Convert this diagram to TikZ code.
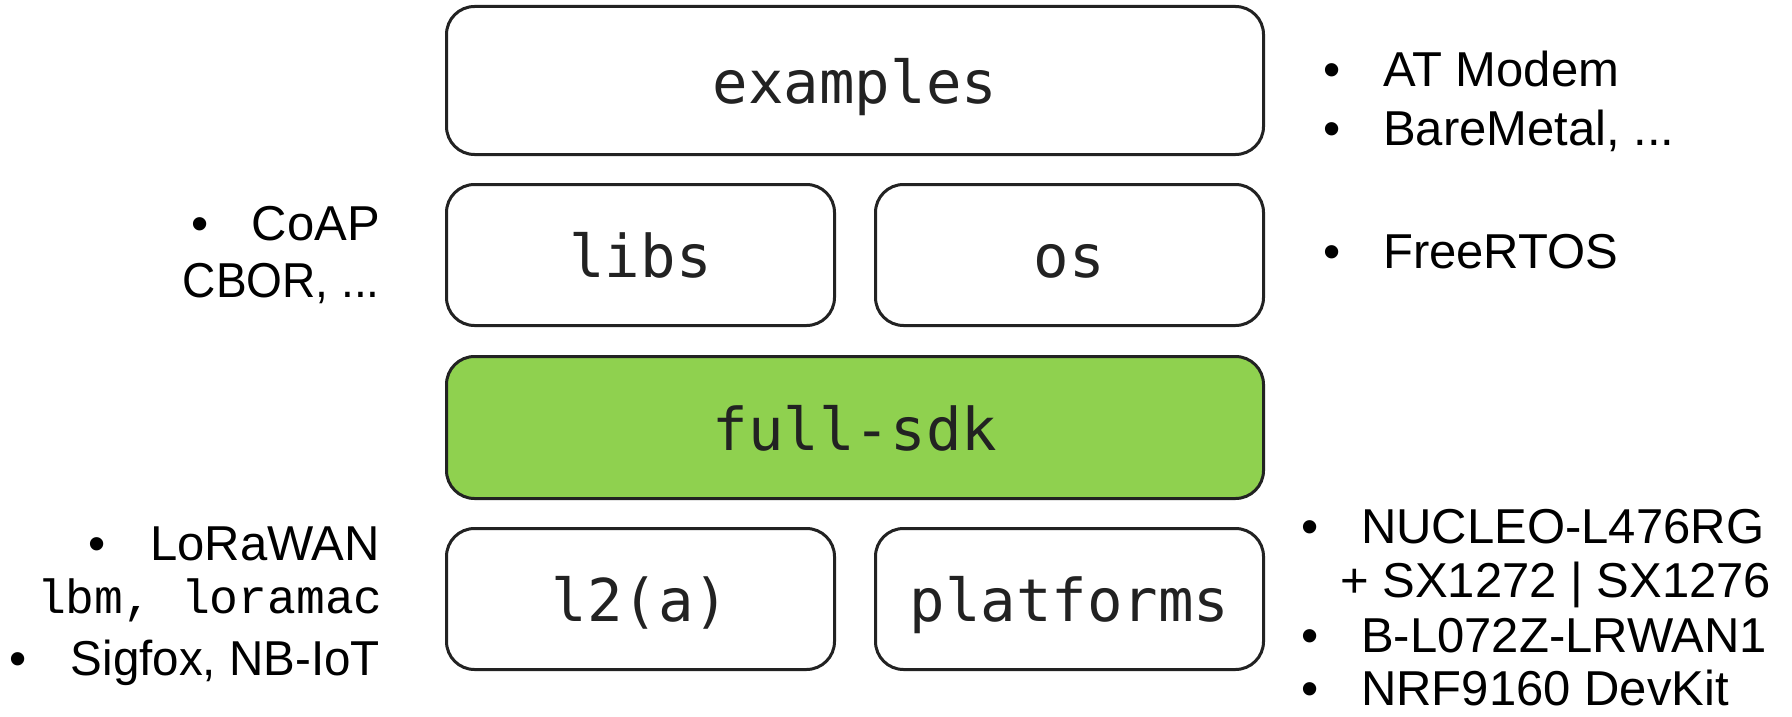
\documentclass[tikz,border=0pt]{standalone}
\usepackage{fontspec}
\setmainfont{Liberation Sans}
\newfontfamily\layerfont{DejaVu Sans Mono}
\newfontfamily\codefont{Liberation Mono}
\definecolor{sdkgreen}{HTML}{8FD14F}
\definecolor{edge}{HTML}{222222}
\begin{document}
\begin{tikzpicture}[x=1pt,y=-1pt,
  layer/.style={draw=edge, line width=3pt, rounded corners=28pt, fill=white,
    inner sep=0pt, text height=45pt, text depth=0pt, text=edge,
    font=\layerfont\fontsize{59}{60}\selectfont},
  wide/.style={layer, minimum width=817pt},
  half/.style={layer, minimum width=388pt},
  note/.style={inner sep=0pt, font=\fontsize{49}{50}\selectfont},
  dot/.style={note, anchor=base},
  code/.style={inner sep=0pt, font=\codefont\fontsize{48}{50}\selectfont}
]
\useasboundingbox (0,0) rectangle (1792,717);

% software layers
\node[wide, minimum height=148pt] (examples) at (855,80.5) {examples};
\node[half, minimum height=141pt] (libs) at (640.5,255) {libs};
\node[half, minimum height=141pt] (os) at (1069.5,255) {os};
\node[wide, minimum height=142pt, fill=sdkgreen] (sdk) at (855,427.5) {full-sdk};
\node[half, minimum height=141pt] (l2a) at (640.5,599) {l2(a)};
\node[half, minimum height=141pt] (platforms) at (1069.5,599) {platforms};

% notes beside examples and os
\node[dot] (b1) at (1332,87) {•};
\node[note, anchor=base west] (atmodem) at (1383,87) {AT Modem};
\node[dot] (b2) at (1332,145) {•};
\node[note, anchor=base west] (baremetal) at (1383,145) {BareMetal, ...};
\node[dot] (b3) at (1332,268) {•};
\node[note, anchor=base west] (freertos) at (1383,268) {FreeRTOS};

% notes beside libs
\node[dot] (b4) at (200,240) {•};
\node[note, anchor=base east] (coap) at (380,240) {CoAP};
\node[note, anchor=base east, xscale=0.94, transform shape] (cbor) at (380,297) {CBOR, ...};

% notes beside l2(a)
\node[dot] (b5) at (97,560) {•};
\node[note, anchor=base east] (lorawan) at (380,560) {LoRaWAN};
\node[code, anchor=base east] (lbm) at (383,613) {lbm, loramac};
\node[dot] (b6) at (18,675) {•};
\node[note, anchor=base east, xscale=0.97, transform shape] (sigfox) at (380,675) {Sigfox, NB-IoT};

% notes beside platforms
\node[dot] (b7) at (1310,543) {•};
\node[note, anchor=base west] (nucleo) at (1361,543) {NUCLEO-L476RG};
\node[note, anchor=base west] (sx) at (1340,597) {+ SX1272 | SX1276};
\node[dot] (b8) at (1310,652) {•};
\node[note, anchor=base west] (lrwan) at (1361,652) {B-L072Z-LRWAN1};
\node[dot] (b9) at (1310,705) {•};
\node[note, anchor=base west] (nrf) at (1361,705) {NRF9160 DevKit};
\end{tikzpicture}
\end{document}
